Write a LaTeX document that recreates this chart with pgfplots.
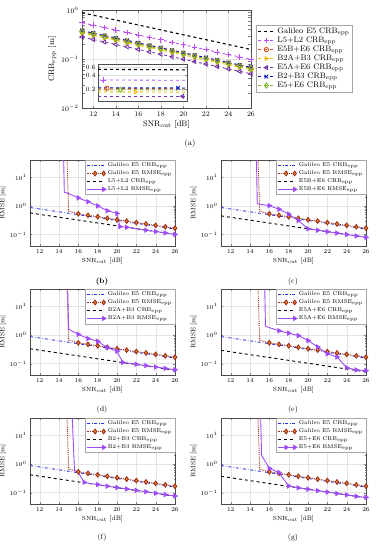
\documentclass[border=0pt]{standalone}
\usepackage{pgfplots}
\pgfplotsset{compat=1.18}
\definecolor{cMag}{rgb}{0.72,0.3,0.95}
\definecolor{cOra}{rgb}{0.85,0.33,0.1}
\definecolor{cYel}{rgb}{0.93,0.75,0.0}
\definecolor{cPur}{rgb}{0.45,0.2,0.65}
\definecolor{cBlu}{rgb}{0.05,0.1,0.75}
\definecolor{cGrn}{rgb}{0.47,0.72,0.15}
\definecolor{cE5}{rgb}{0.15,0.2,0.9}
\definecolor{cBrn}{rgb}{0.62,0.18,0.08}
\definecolor{cBrnF}{rgb}{0.9,0.55,0.2}
\definecolor{cVio}{rgb}{0.62,0.3,0.98}

\pgfplotstableread{
x   e5    l5l2   e5be6  b2ab3  e5ae6  b2b3   e5e6
11 0.880 0.550 0.370 0.340 0.280 0.380 0.360
12 0.784 0.490 0.330 0.303 0.250 0.339 0.321
13 0.699 0.437 0.294 0.270 0.222 0.302 0.286
14 0.623 0.389 0.262 0.241 0.198 0.269 0.255
15 0.555 0.347 0.233 0.215 0.177 0.240 0.227
16 0.495 0.309 0.208 0.191 0.157 0.214 0.202
17 0.441 0.276 0.185 0.170 0.140 0.190 0.180
18 0.393 0.246 0.165 0.152 0.125 0.170 0.161
19 0.350 0.219 0.147 0.135 0.111 0.151 0.143
20 0.312 0.195 0.131 0.121 0.0993 0.135 0.128
21 0.278 0.174 0.117 0.108 0.0885 0.120 0.114
22 0.248 0.155 0.104 0.0958 0.0789 0.107 0.101
23 0.221 0.138 0.0929 0.0854 0.0703 0.0955 0.0904
24 0.197 0.123 0.0828 0.0761 0.0627 0.0851 0.0806
25 0.176 0.110 0.0738 0.0678 0.0559 0.0758 0.0718
26 0.156 0.0978 0.0658 0.0605 0.0498 0.0676 0.0640
}\tA

\pgfplotstableread{
x   l5l2  e5be6  b2ab3  e5ae6  b2b3  e5e6
11 0.570 0.450 0.330 0.290 0.420 0.370
12 0.508 0.401 0.294 0.258 0.374 0.330
13 0.453 0.357 0.262 0.230 0.334 0.294
14 0.404 0.319 0.234 0.205 0.297 0.262
15 0.360 0.284 0.208 0.183 0.265 0.233
16 0.321 0.253 0.186 0.163 0.236 0.208
17 0.286 0.226 0.165 0.145 0.211 0.185
18 0.255 0.201 0.147 0.130 0.188 0.165
19 0.227 0.179 0.131 0.115 0.167 0.147
20 0.202 0.160 0.117 0.103 0.149 0.131
21 0.180 0.142 0.104 0.0917 0.133 0.117
22 0.161 0.127 0.093 0.0817 0.118 0.104
23 0.143 0.113 0.0829 0.0728 0.106 0.0929
24 0.128 0.101 0.0739 0.0649 0.0940 0.0828
25 0.114 0.0898 0.0658 0.0579 0.0838 0.0738
26 0.101 0.0800 0.0587 0.0516 0.0747 0.0658
}\tP

\pgfplotstableread{
x y
14.7 1000
15 0.66
16 0.53
17 0.47
18 0.42
19 0.37
20 0.33
21 0.295
22 0.263
23 0.235
24 0.21
25 0.187
26 0.167
}\tEr

\pgfplotstableread{
x y
14.4 1000
14.55 3.0
15 2.7
16 1.9
17 1.4
18 1.0
19 0.68
20 0.55
20.3 0.19
21 0.180
22 0.161
23 0.143
24 0.128
25 0.114
26 0.101
}\tRb

\pgfplotstableread{
x y
14.6 1000
14.75 1.2
15 1.15
16 1.02
17 0.77
18 0.52
19 0.31
20 0.16
21 0.142
22 0.127
23 0.113
24 0.101
25 0.0898
26 0.0800
}\tRc

\pgfplotstableread{
x y
14.8 1000
15 1.6
15.2 1.45
16 1.05
17 0.75
18 0.6
19 0.36
20 0.27
20.6 0.11
21 0.106
22 0.095
23 0.085
24 0.076
25 0.068
26 0.061
}\tRd

\pgfplotstableread{
x y
15.45 1000
15.6 2.0
16 1.8
17 1.4
18 1.15
19 0.95
20 0.64
21 0.38
22 0.22
23 0.17
24 0.072
25 0.06
26 0.057
}\tRe

\pgfplotstableread{
x y
15.2 1000
15.6 0.6
16 0.5
16.6 0.23
17 0.215
18 0.19
19 0.168
20 0.15
21 0.134
22 0.12
23 0.107
24 0.095
25 0.085
26 0.076
}\tRf

\pgfplotstableread{
x y
15.0 1000
15.2 2.0
16 0.7
17 0.5
18 0.17
19 0.147
20 0.131
21 0.117
22 0.104
23 0.093
24 0.083
25 0.074
26 0.068
}\tRg

\tikzset{
  e5crb/.style={cE5, dash dot, line width=0.9pt},
  ccrb/.style={black, dashed, line width=0.9pt},
}
\pgfplotsset{
  rmsepanel/.style={scale only axis, width=145pt, height=86pt, anchor=north west,
    xmin=11, xmax=26, ymin=0.04, ymax=40,
    xtick={12,14,...,26}, ytick={0.1,1,10},
    grid=major, major grid style={gray!22, line width=0.3pt},
    tick align=inside, major tick length=2pt, minor tick length=1pt,
    axis line style={gray!60!black, line width=0.4pt},
    tick label style={font=\fontsize{6}{7}\selectfont},
    label style={font=\fontsize{6.5}{7}\selectfont},
    xlabel={$\mathrm{SNR}_{\mathrm{out}}$ [dB]}, ylabel={RMSE [m]},
    xlabel style={yshift=3pt}, ylabel style={yshift=-3pt},
    legend style={font=\fontsize{5.6}{6}\selectfont, at={(1,1)}, anchor=north east,
      draw=gray!70, inner sep=0.6pt, row sep=-1.5pt},
    legend cell align=left},
}

\begin{document}
\begin{tikzpicture}
\useasboundingbox (0,0) rectangle (380pt,-550pt);

% ---------------- (a)
\begin{axis}[scale only axis, width=169pt, height=98pt, at={(82pt,-10pt)}, anchor=north west,
  ymode=log, xmin=11, xmax=26, ymin=0.01, ymax=1,
  xtick={12,14,...,26}, ytick={0.01,0.1,1},
  grid=major, major grid style={gray!22, line width=0.3pt},
  tick align=inside, major tick length=2.5pt,
  axis line style={gray!60!black, line width=0.4pt},
  tick label style={font=\fontsize{7}{8}\selectfont},
  label style={font=\fontsize{8}{9}\selectfont},
  xlabel={$\mathrm{SNR}_{\mathrm{out}}$ [dB]}, ylabel={$\mathrm{CRB}_{\mathrm{epp}}$ [m]},
  xlabel style={yshift=2pt}, ylabel style={yshift=-2pt},
  legend style={font=\fontsize{8}{9}\selectfont, at={(1.03,0.847)}, anchor=north west,
    draw=gray!70, inner sep=1pt, row sep=-2.2pt},
  legend cell align=left]
\addplot[black, dashed, line width=1.1pt, no marks] table[x=x, y=e5] {\tA};
\addlegendentry{Galileo E5 CRB$_{\mathrm{epp}}$}
\addplot[cMag, dashed, line width=0.85pt, mark=+, mark size=2.8pt, mark options={solid}] table[x=x, y=l5l2] {\tA};
\addlegendentry{L5+L2 CRB$_{\mathrm{epp}}$}
\addplot[cOra, dashed, line width=0.85pt, mark=o, mark size=2.2pt, mark options={solid}] table[x=x, y=e5be6] {\tA};
\addlegendentry{E5B+E6 CRB$_{\mathrm{epp}}$}
\addplot[cYel, dashed, line width=0.85pt, mark=triangle, mark size=2.3pt, mark options={solid, rotate=-90}] table[x=x, y=b2ab3] {\tA};
\addlegendentry{B2A+B3 CRB$_{\mathrm{epp}}$}
\addplot[cPur, dashed, line width=0.85pt, mark=triangle, mark size=2.3pt, mark options={solid, rotate=90}] table[x=x, y=e5ae6] {\tA};
\addlegendentry{E5A+E6 CRB$_{\mathrm{epp}}$}
\addplot[cBlu, dashed, line width=0.85pt, mark=x, mark size=2.6pt, mark options={solid}] table[x=x, y=b2b3] {\tA};
\addlegendentry{B2+B3 CRB$_{\mathrm{epp}}$}
\addplot[cGrn, dashed, line width=0.85pt, mark=diamond, mark size=2.6pt, mark options={solid, line width=0.9pt}] table[x=x, y=e5e6] {\tA};
\addlegendentry{E5+E6 CRB$_{\mathrm{epp}}$}
\end{axis}

% inset
\begin{axis}[scale only axis, width=89pt, height=37pt, at={(98pt,-64pt)}, anchor=north west,
  ymode=log, xmin=0, xmax=10, ymin=0.11, ymax=0.72,
  xtick=\empty, ytick={0.2,0.4,0.6}, yticklabels={0.2,0.4,0.6},
  axis background/.style={fill=white},
  grid=major, major grid style={gray!22, line width=0.3pt},
  tick align=inside, major tick length=2pt,
  axis line style={gray!60!black, line width=0.4pt},
  tick label style={font=\fontsize{6.5}{7}\selectfont}, yticklabel style={xshift=1pt}]
\addplot[black, dashed, line width=1.1pt, no marks] coordinates {(0,0.55) (10,0.535)};
\addplot[cMag, dashed, line width=0.85pt, mark=+, mark size=2.8pt, mark options={solid}, mark indices={2}] coordinates {(0,0.32) (0.6,0.32) (10,0.315)};
\addplot[cOra, dashed, line width=0.85pt, mark=o, mark size=2.2pt, mark options={solid}, mark indices={2}] coordinates {(0,0.21) (1.0,0.21) (10,0.205)};
\addplot[cYel, dashed, line width=0.85pt, mark=triangle, mark size=2.3pt, mark options={solid, rotate=-90}, mark indices={2}] coordinates {(0,0.175) (4.2,0.175) (10,0.172)};
\addplot[cPur, dashed, line width=0.85pt, mark=triangle, mark size=2.3pt, mark options={solid, rotate=90}, mark indices={2}] coordinates {(0,0.14) (9.5,0.14) (10,0.14)};
\addplot[cBlu, dashed, line width=0.85pt, mark=x, mark size=2.6pt, mark options={solid}, mark indices={2}] coordinates {(0,0.215) (9.0,0.214) (10,0.213)};
\addplot[cGrn, dashed, line width=0.85pt, mark=diamond, mark size=2.6pt, mark options={solid, line width=0.9pt}, mark indices={2}] coordinates {(0,0.195) (2.5,0.195) (10,0.192)};
\end{axis}

\node[font=\fontsize{8}{9}\selectfont] at (190pt,-143pt) {(a)};

% ---------------- (b)
\begin{axis}[rmsepanel, ymode=log, at={(30pt,-160pt)}]
\addplot[e5crb, no marks] table[x=x, y=e5] {\tA};
\addlegendentry{Galileo E5 CRB$_{\mathrm{epp}}$}
\addplot[cBrn, densely dotted, line width=0.9pt, mark=diamond*, mark size=2.3pt, mark options={solid, fill=cBrnF, draw=cBrn}, mark indices={2,3,4,5,6,7,8,9,10,11,12,13}] table {\tEr};
\addlegendentry{Galileo E5 RMSE$_{\mathrm{epp}}$}
\addplot[ccrb, no marks] table[x=x, y=l5l2] {\tP};
\addlegendentry{L5+L2 CRB$_{\mathrm{epp}}$}
\addplot[cVio, line width=0.9pt, mark=triangle*, mark size=2.3pt, mark options={solid, rotate=-90, fill=cVio}, mark indices={3,4,5,6,7,8,9,11,12,13,14,15}] table {\tRb};
\addlegendentry{L5+L2 RMSE$_{\mathrm{epp}}$}
\end{axis}
\node[font=\bfseries\fontsize{7.5}{8}\selectfont] at (102pt,-282pt) {(b)};

% ---------------- (c)
\begin{axis}[rmsepanel, ymode=log, at={(221pt,-160pt)}]
\addplot[e5crb, no marks] table[x=x, y=e5] {\tA};
\addlegendentry{Galileo E5 CRB$_{\mathrm{epp}}$}
\addplot[cBrn, densely dotted, line width=0.9pt, mark=diamond*, mark size=2.3pt, mark options={solid, fill=cBrnF, draw=cBrn}, mark indices={2,3,4,5,6,7,8,9,10,11,12,13}] table {\tEr};
\addlegendentry{Galileo E5 RMSE$_{\mathrm{epp}}$}
\addplot[ccrb, no marks] table[x=x, y=e5be6] {\tP};
\addlegendentry{E5B+E6 CRB$_{\mathrm{epp}}$}
\addplot[cVio, line width=0.9pt, mark=triangle*, mark size=2.3pt, mark options={solid, rotate=-90, fill=cVio}, mark indices={3,4,5,6,7,8,9,10,11,12,13,14}] table {\tRc};
\addlegendentry{E5B+E6 RMSE$_{\mathrm{epp}}$}
\end{axis}
\node[font=\fontsize{7.5}{8}\selectfont] at (293pt,-282pt) {(c)};

% ---------------- (d)
\begin{axis}[rmsepanel, ymode=log, at={(30pt,-289pt)}]
\addplot[e5crb, no marks] table[x=x, y=e5] {\tA};
\addlegendentry{Galileo E5 CRB$_{\mathrm{epp}}$}
\addplot[cBrn, densely dotted, line width=0.9pt, mark=diamond*, mark size=2.3pt, mark options={solid, fill=cBrnF, draw=cBrn}, mark indices={2,3,4,5,6,7,8,9,10,11,12,13}] table {\tEr};
\addlegendentry{Galileo E5 RMSE$_{\mathrm{epp}}$}
\addplot[ccrb, no marks] table[x=x, y=b2ab3] {\tP};
\addlegendentry{B2A+B3 CRB$_{\mathrm{epp}}$}
\addplot[cVio, line width=0.9pt, mark=triangle*, mark size=2.3pt, mark options={solid, rotate=-90, fill=cVio}, mark indices={3,4,5,6,7,8,10,11,12,13,14,15}] table {\tRd};
\addlegendentry{B2A+B3 RMSE$_{\mathrm{epp}}$}
\end{axis}
\node[font=\fontsize{7.5}{8}\selectfont] at (102pt,-410pt) {(d)};

% ---------------- (e)
\begin{axis}[rmsepanel, ymode=log, at={(221pt,-289pt)}]
\addplot[e5crb, no marks] table[x=x, y=e5] {\tA};
\addlegendentry{Galileo E5 CRB$_{\mathrm{epp}}$}
\addplot[cBrn, densely dotted, line width=0.9pt, mark=diamond*, mark size=2.3pt, mark options={solid, fill=cBrnF, draw=cBrn}, mark indices={2,3,4,5,6,7,8,9,10,11,12,13}] table {\tEr};
\addlegendentry{Galileo E5 RMSE$_{\mathrm{epp}}$}
\addplot[ccrb, no marks] table[x=x, y=e5ae6] {\tP};
\addlegendentry{E5A+E6 CRB$_{\mathrm{epp}}$}
\addplot[cVio, line width=0.9pt, mark=triangle*, mark size=2.3pt, mark options={solid, rotate=-90, fill=cVio}, mark indices={3,4,5,6,7,8,9,10,11,12,13}] table {\tRe};
\addlegendentry{E5A+E6 RMSE$_{\mathrm{epp}}$}
\end{axis}
\node[font=\fontsize{7.5}{8}\selectfont] at (293pt,-410pt) {(e)};

% ---------------- (f)
\begin{axis}[rmsepanel, ymode=log, at={(30pt,-418pt)}]
\addplot[e5crb, no marks] table[x=x, y=e5] {\tA};
\addlegendentry{Galileo E5 CRB$_{\mathrm{epp}}$}
\addplot[cBrn, densely dotted, line width=0.9pt, mark=diamond*, mark size=2.3pt, mark options={solid, fill=cBrnF, draw=cBrn}, mark indices={2,3,4,5,6,7,8,9,10,11,12,13}] table {\tEr};
\addlegendentry{Galileo E5 RMSE$_{\mathrm{epp}}$}
\addplot[ccrb, no marks] table[x=x, y=b2b3] {\tP};
\addlegendentry{B2+B3 CRB$_{\mathrm{epp}}$}
\addplot[cVio, line width=0.9pt, mark=triangle*, mark size=2.3pt, mark options={solid, rotate=-90, fill=cVio}, mark indices={3,5,6,7,8,9,10,11,12,13,14}] table {\tRf};
\addlegendentry{B2+B3 RMSE$_{\mathrm{epp}}$}
\end{axis}
\node[font=\fontsize{7.5}{8}\selectfont] at (102pt,-538pt) {(f)};

% ---------------- (g)
\begin{axis}[rmsepanel, ymode=log, at={(221pt,-418pt)}]
\addplot[e5crb, no marks] table[x=x, y=e5] {\tA};
\addlegendentry{Galileo E5 CRB$_{\mathrm{epp}}$}
\addplot[cBrn, densely dotted, line width=0.9pt, mark=diamond*, mark size=2.3pt, mark options={solid, fill=cBrnF, draw=cBrn}, mark indices={2,3,4,5,6,7,8,9,10,11,12,13}] table {\tEr};
\addlegendentry{Galileo E5 RMSE$_{\mathrm{epp}}$}
\addplot[ccrb, no marks] table[x=x, y=e5e6] {\tP};
\addlegendentry{E5+E6 CRB$_{\mathrm{epp}}$}
\addplot[cVio, line width=0.9pt, mark=triangle*, mark size=2.3pt, mark options={solid, rotate=-90, fill=cVio}, mark indices={2,3,4,5,6,7,8,9,10,11,12,13}] table {\tRg};
\addlegendentry{E5+E6 RMSE$_{\mathrm{epp}}$}
\end{axis}
\node[font=\fontsize{7.5}{8}\selectfont] at (293pt,-538pt) {(g)};

\end{tikzpicture}
\end{document}
